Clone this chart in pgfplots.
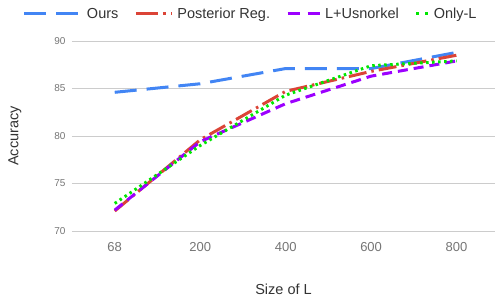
\documentclass[border=0pt]{standalone}
\usepackage{fontspec}
\setmainfont{Liberation Sans}
\usepackage{pgfplots}
\pgfplotsset{compat=1.18}
\definecolor{cblue}{HTML}{4285F4}
\definecolor{cred}{HTML}{DB4437}
\definecolor{cpurple}{HTML}{9C00FF}
\definecolor{cgreen}{HTML}{00E600}
\definecolor{gridc}{HTML}{CCCCCC}
\definecolor{tickc}{HTML}{757575}
\definecolor{labc}{HTML}{333333}
\pgfplotsset{
  legA/.style={legend image code/.code={\draw[##1] (0pt,0pt) -- (57pt,0pt);}},
  legB/.style={legend image code/.code={\draw[##1, dash pattern=on 22pt off 5pt on 3pt off 5pt] (0pt,0pt) -- (36pt,0pt);}},
  legC/.style={legend image code/.code={\draw[##1, dash pattern=on 12pt off 8pt] (0pt,0pt) -- (32pt,0pt);}},
  legD/.style={legend image code/.code={\draw[##1, dash pattern=on 3pt off 6pt] (0pt,0pt) -- (12pt,0pt);}},
}
\begin{document}
\begin{tikzpicture}[x=1pt,y=1pt]
\path[use as bounding box] (-72,-66) rectangle (423,231);
\begin{axis}[
  at={(0,0)}, anchor=south west,
  scale only axis, width=423pt, height=190pt,
  xmin=-0.5, xmax=4.45, ymin=70, ymax=90,
  axis line style={draw=none},
  xtick={0,1,2,3,4}, xticklabels={68,200,400,600,800},
  ytick={70,75,80,85,90},
  ymajorgrids, grid style={gridc, line width=0.8pt},
  major tick length=0pt,
  yticklabel style={font=\fontsize{10}{12}\selectfont, text=tickc, xshift=-3pt},
  xticklabel style={font=\fontsize{13}{14}\selectfont, text=tickc, yshift=-8pt},
  /pgf/number format/assume math mode=true,
  xlabel={Size of L}, ylabel={Accuracy},
  label style={font=\fontsize{14.5}{16}\selectfont, text=labc},
  xlabel style={at={(0.5,0)}, anchor=center, yshift=-58pt},
  ylabel style={at={(0,0.5)}, anchor=center, yshift=57pt},
  clip=false,
  legend columns=4,
  legend style={at={(-72pt,217pt)}, anchor=west, xshift=23pt, draw=none, fill=none,
    font=\fontsize{14.5}{16}\selectfont, text=labc,
    /tikz/every odd column/.append style={column sep=2pt},
    /tikz/every even column/.append style={column sep=14pt},
    inner sep=0pt, outer sep=0pt},
]
\addplot[cblue, line width=3pt, dash pattern=on 22pt off 10pt, legA] coordinates {(0,84.6) (1,85.5) (2,87.1) (3,87.1) (4,88.8)};
\addlegendentry{Ours}
\addplot[cred, line width=3pt, dash pattern=on 18pt off 5pt on 2.5pt off 5pt, legB] coordinates {(0,72.1) (1,79.6) (2,84.7) (3,86.8) (4,88.5)};
\addlegendentry{Posterior Reg.}
\addplot[cpurple, line width=3pt, dash pattern=on 10pt off 6pt, legC] coordinates {(0,72.2) (1,79.4) (2,83.4) (3,86.3) (4,87.9)};
\addlegendentry{L+Usnorkel}
\addplot[cgreen, line width=3pt, dash pattern=on 2.5pt off 3.5pt, legD] coordinates {(0,72.9) (1,79.0) (2,84.3) (3,87.4) (4,87.9)};
\addlegendentry{Only-L}
\end{axis}
\end{tikzpicture}
\end{document}
